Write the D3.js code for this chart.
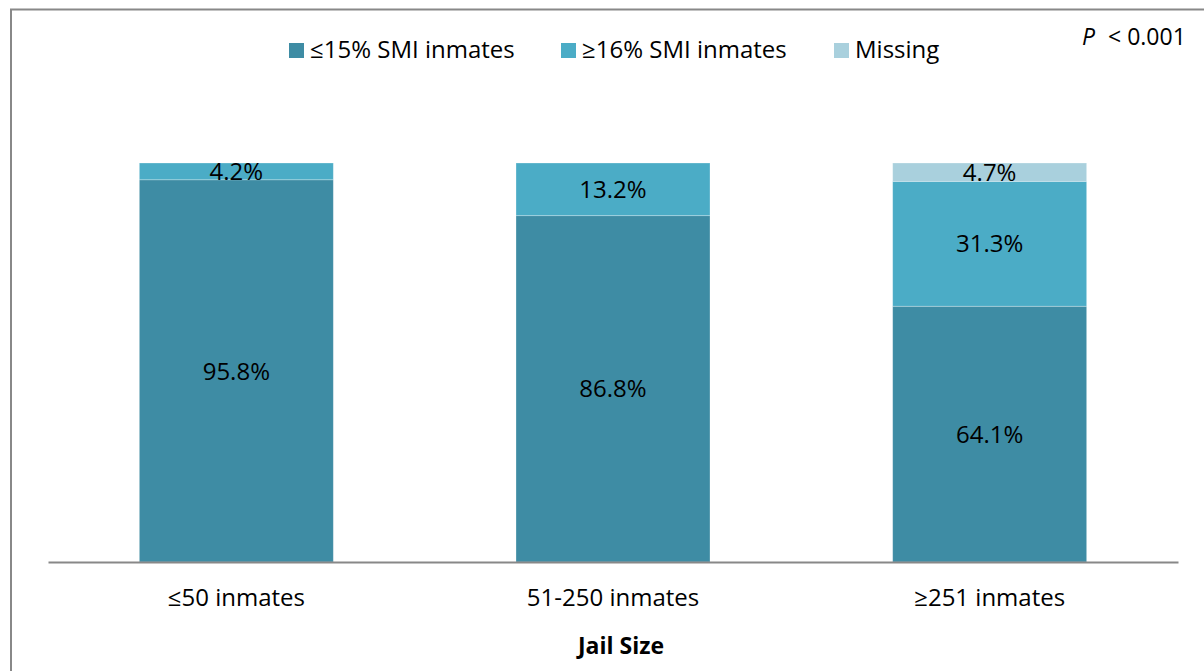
<!DOCTYPE html>
<html>
<head>
<meta charset="utf-8">
<script src="https://cdn.jsdelivr.net/npm/d3@7"></script>
<style>
  body { margin: 0; background: #fff; }
  svg text { font-family: "Open Sans", sans-serif; fill: #000; }
</style>
</head>
<body>
<svg id="chart"></svg>
<script>
// data
const categories = ["≤50 inmates", "51-250 inmates", "≥251 inmates"];
const seriesNames = ["≤15% SMI inmates", "≥16% SMI inmates", "Missing"];
const lowSmi = [95.8, 86.8, 64.1];
const highSmi = [4.2, 13.2, 31.3];
const missing = [0, 0, 4.7];
const pText = "< 0.001";
const xTitle = "Jail Size";

const colors = ["#3e8ca4", "#4bacc6", "#a9d0dd"];

const W = 1204, H = 671;
const margin = { top: 163, right: 26, bottom: 109, left: 48 };
const width = W - margin.left - margin.right;
const height = H - margin.top - margin.bottom;

const svg = d3.select("#chart").attr("width", W).attr("height", H);

// outer frame (only top and left visible)
svg.append("path")
  .attr("d", `M11,${H} L11,9.5 L${W},9.5`)
  .attr("fill", "none")
  .attr("stroke", "#888")
  .attr("stroke-width", 2);

const rows = categories.map((c, i) => ({
  cat: c,
  low: lowSmi[i],
  high: highSmi[i],
  miss: missing[i]
}));

const stack = d3.stack().keys(["low", "high", "miss"])(rows);

const x = d3.scaleBand().domain(categories).range([0, width]).paddingInner(0.485).paddingOuter(0.2425);
const y = d3.scaleLinear().domain([0, 100]).range([height, 0]);

const g = svg.append("g").attr("transform", `translate(${margin.left},${margin.top})`);

stack.forEach((layer, li) => {
  g.selectAll(null)
    .data(layer.filter(d => d[1] - d[0] > 0))
    .enter()
    .append("rect")
    .attr("x", d => x(d.data.cat))
    .attr("width", x.bandwidth())
    .attr("y", d => y(Math.min(d[1], 100)))
    .attr("height", d => y(d[0]) - y(Math.min(d[1], 100)))
    .attr("fill", colors[li])
    .attr("stroke", "#fff")
    .attr("stroke-opacity", 0.35)
    .attr("stroke-width", 0.8);

  g.selectAll(null)
    .data(layer.filter(d => d[1] - d[0] > 0))
    .enter()
    .append("text")
    .attr("x", d => x(d.data.cat) + x.bandwidth() / 2)
    .attr("y", d => (y(d[0]) + y(Math.min(d[1], 100))) / 2)
    .attr("dy", "0.36em")
    .attr("text-anchor", "middle")
    .style("font-size", "24px")
    .text(d => (d[1] - d[0]).toFixed(1) + "%");
});

// x axis
const xAxis = g.append("g")
  .attr("transform", `translate(0,${height})`)
  .call(d3.axisBottom(x).tickSize(0).tickPadding(0));
xAxis.select(".domain").attr("stroke", "#888").attr("stroke-width", 2);
xAxis.selectAll(".tick text")
  .attr("y", 44)
  .attr("dy", 0)
  .style("font-size", "24px")
  .style("font-family", "'Open Sans', sans-serif")
  .attr("fill", "#000");

g.append("text")
  .attr("x", width / 2 + 8)
  .attr("y", height + 92)
  .attr("text-anchor", "middle")
  .style("font-size", "23px")
  .style("font-weight", "bold")
  .text(xTitle);

// legend
const legendX = [289, 561, 834];
const legend = svg.append("g");
seriesNames.forEach((name, i) => {
  const row = legend.append("g").attr("transform", `translate(${legendX[i]},43)`);
  row.append("rect").attr("width", 15).attr("height", 15).attr("fill", colors[i]);
  row.append("text")
    .attr("x", 21)
    .attr("y", 15)
    .style("font-size", "24px")
    .text(name);
});

// p value
const p = svg.append("text").attr("x", 1082).attr("y", 45).style("font-size", "23px");
p.append("tspan").style("font-style", "italic").text("P");
p.append("tspan").attr("dx", 13).text(pText);
</script>
</body>
</html>
